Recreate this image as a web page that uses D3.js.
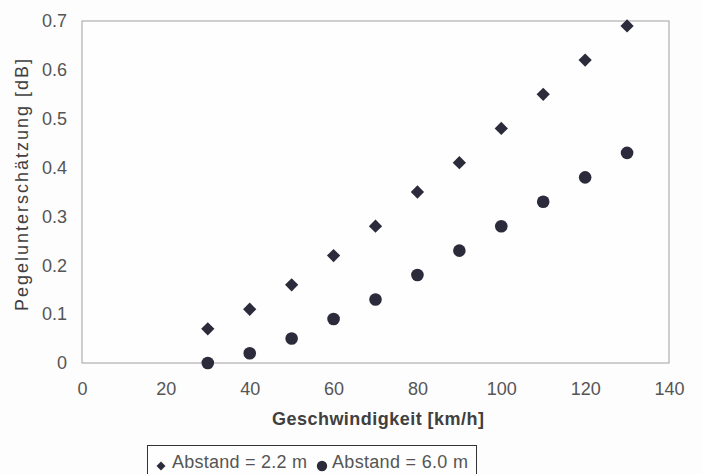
<!DOCTYPE html>
<html>
<head>
<meta charset="utf-8">
<script src="https://cdn.jsdelivr.net/npm/d3@7"></script>
<style>
  html, body { margin: 0; padding: 0; background: #fdfdfd; }
  svg { display: block; font-family: "Liberation Sans", Arial, Helvetica, sans-serif; }
</style>
</head>
<body>
<div id="chart"></div>
<script>
// Speed in km/h
const speeds = [30, 40, 50, 60, 70, 80, 90, 100, 110, 120, 130];
// Level underestimation in dB for two distances
const underest22 = [0.07, 0.11, 0.16, 0.22, 0.28, 0.35, 0.41, 0.48, 0.55, 0.62, 0.69];
const underest60 = [0.00, 0.02, 0.05, 0.09, 0.13, 0.18, 0.23, 0.28, 0.33, 0.38, 0.43];
const xTicks = [0, 20, 40, 60, 80, 100, 120, 140];
const yTicks = [0, 0.1, 0.2, 0.3, 0.4, 0.5, 0.6, 0.7];
const seriesNames = ["Abstand = 2.2 m", "Abstand = 6.0 m"];

const W = 702, H = 474;
const margin = { left: 82, right: 33, top: 21, bottom: 111 };
const markColor = "#2b2b3b";
const textColor = "#555555";
const titleColor = "#404040";
const fontFam = "'Liberation Sans', Arial, sans-serif";

const svg = d3.select("#chart").append("svg")
  .attr("width", W).attr("height", H);

svg.append("rect").attr("width", W).attr("height", H).attr("fill", "#fdfdfd");

const x = d3.scaleLinear().domain([0, 140]).range([margin.left, W - margin.right]);
const y = d3.scaleLinear().domain([0, 0.7]).range([H - margin.bottom, margin.top]);

// Plot frame
svg.append("rect")
  .attr("x", x(0)).attr("y", y(0.7))
  .attr("width", x(140) - x(0)).attr("height", y(0) - y(0.7))
  .attr("fill", "#fefefe").attr("stroke", "#a0a0a0").attr("stroke-width", 1);

// Axes (labels only, no tick marks)
const xAxis = svg.append("g")
  .attr("transform", `translate(0,${y(0)})`)
  .call(d3.axisBottom(x).tickValues(xTicks).tickSize(0).tickPadding(19).tickFormat(d3.format("d")));
const yAxis = svg.append("g")
  .attr("transform", `translate(${x(0)},0)`)
  .call(d3.axisLeft(y).tickValues(yTicks).tickSize(0).tickPadding(15)
    .tickFormat(d => d === 0 ? "0" : d3.format(".1f")(d)));
[xAxis, yAxis].forEach(g => {
  g.select(".domain").remove();
  g.attr("font-size", 18).attr("font-family", fontFam);
  g.selectAll("text").attr("fill", textColor);
});
xAxis.selectAll("text").attr("dy", "0.72em").attr("y", 19);
yAxis.selectAll("text").attr("x", -15);

// Axis titles
svg.append("text")
  .attr("x", 378).attr("y", 425)
  .attr("text-anchor", "middle").attr("font-size", 18).attr("font-weight", "bold")
  .attr("fill", titleColor)
  .attr("textLength", 212).attr("lengthAdjust", "spacing")
  .text("Geschwindigkeit [km/h]");
svg.append("text")
  .attr("transform", `translate(28,185) rotate(-90)`)
  .attr("text-anchor", "middle").attr("font-size", 18)
  .attr("fill", titleColor)
  .attr("textLength", 252).attr("lengthAdjust", "spacing")
  .text("Pegelunterschätzung [dB]");

// Diamond drawn as a square turned 45 degrees
const diamond = d3.symbol().type(d3.symbolSquare).size(88);

// Series 1: diamonds
svg.append("g").selectAll("path")
  .data(speeds.map((s, i) => [s, underest22[i]]))
  .join("path")
  .attr("d", diamond)
  .attr("transform", d => `translate(${x(d[0])},${y(d[1])}) rotate(45)`)
  .attr("fill", markColor);

// Series 2: circles
svg.append("g").selectAll("circle")
  .data(speeds.map((s, i) => [s, underest60[i]]))
  .join("circle")
  .attr("cx", d => x(d[0])).attr("cy", d => y(d[1]))
  .attr("r", 6.3)
  .attr("fill", markColor);

// Legend
const lg = svg.append("g");
lg.append("rect")
  .attr("x", 147.5).attr("y", 445.5).attr("width", 329).attr("height", 40)
  .attr("fill", "#fefefe").attr("stroke", "#333").attr("stroke-width", 1);
lg.append("path").attr("d", d3.symbol().type(d3.symbolSquare).size(40))
  .attr("transform", "translate(161,466) rotate(45)").attr("fill", markColor);
lg.append("text").attr("x", 172).attr("y", 468).attr("font-size", 18).attr("fill", textColor)
  .attr("textLength", 135).attr("lengthAdjust", "spacing")
  .text(seriesNames[0]);
lg.append("circle").attr("cx", 322).attr("cy", 466).attr("r", 5.2).attr("fill", markColor);
lg.append("text").attr("x", 332).attr("y", 468).attr("font-size", 18).attr("fill", textColor)
  .attr("textLength", 136).attr("lengthAdjust", "spacing")
  .text(seriesNames[1]);
</script>
</body>
</html>
